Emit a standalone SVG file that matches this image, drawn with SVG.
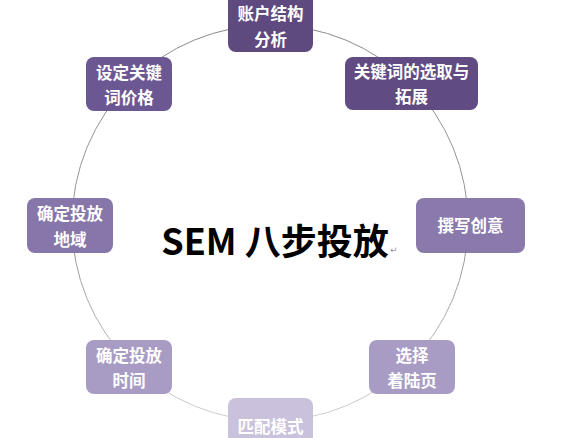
<svg xmlns="http://www.w3.org/2000/svg" width="584" height="438" viewBox="0 0 584 438">
<defs>
<linearGradient id="ring" x1="0" y1="0" x2="0" y2="1">
<stop offset="0" stop-color="#8a8a8a"/>
<stop offset="0.6" stop-color="#9a9a9a"/>
<stop offset="1" stop-color="#d0d0d0"/>
</linearGradient>
<style>
.box{stroke:none}
.t{font-family:"Noto Sans CJK SC","Noto Sans",sans-serif;font-weight:bold;font-size:16.5px;fill:#ffffff;text-anchor:middle}
.title{font-family:"Noto Sans CJK SC","Noto Sans",sans-serif;font-weight:bold;font-size:36px;fill:#000000;text-anchor:middle}
</style>
</defs>
<rect width="584" height="438" fill="#ffffff"/>
<g id="connectors">
<circle cx="270" cy="223" r="198" fill="none" stroke="url(#ring)" stroke-width="1"/>
</g>
<g id="title">
<text class="title" x="275" y="255">SEM 八步投放</text>
<text x="390" y="253" font-family="DejaVu Sans,sans-serif" font-size="9" fill="#999">↵</text>
</g>
<g id="n1">
<rect class="box" x="228" y="-8" width="85" height="60" rx="8" fill="#5e4a7f"/>
<text class="t" x="270.5" y="20">账户结构</text>
<text class="t" x="270.5" y="46">分析</text>
</g>
<g id="n2">
<rect class="box" x="345" y="57" width="133" height="53" rx="8" fill="#604c82"/>
<text class="t" x="411.5" y="78">关键词的选取与</text>
<text class="t" x="411.5" y="103">拓展</text>
</g>
<g id="n3">
<rect class="box" x="86" y="57" width="86" height="54" rx="8" fill="#6b5893"/>
<text class="t" x="129" y="79">设定关键</text>
<text class="t" x="129" y="104">词价格</text>
</g>
<g id="n4">
<rect class="box" x="27" y="198" width="86" height="55" rx="8" fill="#8776a9"/>
<text class="t" x="70" y="220">确定投放</text>
<text class="t" x="70" y="246">地域</text>
</g>
<g id="n5">
<rect class="box" x="416" y="198" width="109" height="55" rx="8" fill="#8a7aac"/>
<text class="t" x="470.5" y="232">撰写创意</text>
</g>
<g id="n6">
<rect class="box" x="369" y="340" width="86" height="54" rx="8" fill="#a89cc4"/>
<text class="t" x="412" y="362">选择</text>
<text class="t" x="412" y="387">着陆页</text>
</g>
<g id="n7">
<rect class="box" x="86" y="340" width="86" height="54" rx="8" fill="#a89cc4"/>
<text class="t" x="129" y="362">确定投放</text>
<text class="t" x="129" y="387">时间</text>
</g>
<g id="n8">
<rect class="box" x="228" y="398" width="85" height="50" rx="8" fill="#cac2dd"/>
<text class="t" x="270.5" y="433">匹配模式</text>
</g>
</svg>
